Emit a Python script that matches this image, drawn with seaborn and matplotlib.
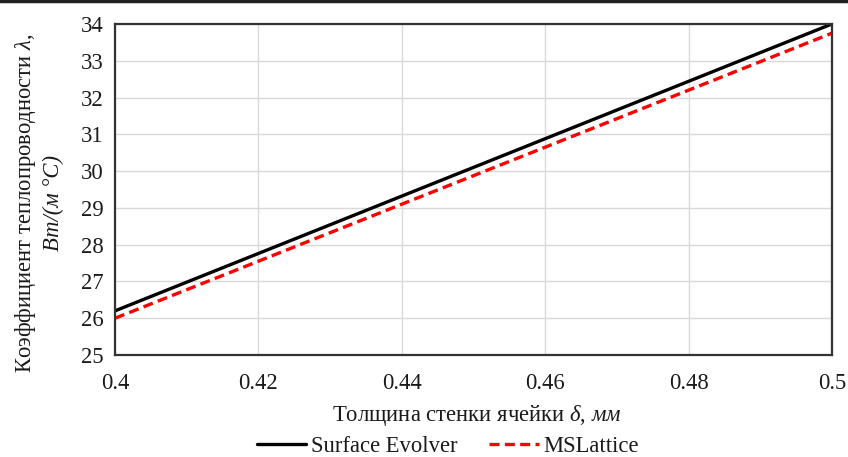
import matplotlib
matplotlib.use("Agg")
import matplotlib.pyplot as plt
import seaborn as sns
import pandas as pd
from matplotlib.lines import Line2D

thickness = [0.40, 0.42, 0.44, 0.46, 0.48, 0.50]
surface_evolver = [26.2, 27.76, 29.32, 30.88, 32.44, 34.0]
mslattice = [26.0, 27.55, 29.1, 30.65, 32.2, 33.75]
series_names = ["Surface Evolver", "MSLattice"]
x_ticks = [0.4, 0.42, 0.44, 0.46, 0.48, 0.5]
x_tick_labels = ["0.4", "0.42", "0.44", "0.46", "0.48", "0.5"]
y_ticks = list(range(25, 35))

df = pd.DataFrame({
    "x": thickness * 2,
    "y": surface_evolver + mslattice,
    "series": [series_names[0]] * len(thickness) + [series_names[1]] * len(thickness),
})

sns.set_theme(style="white")
plt.rcParams["font.family"] = ["Liberation Serif", "DejaVu Serif"]
plt.rcParams["mathtext.fontset"] = "custom"
plt.rcParams["mathtext.it"] = "Liberation Serif:italic"
plt.rcParams["mathtext.rm"] = "Liberation Serif"

fig = plt.figure(figsize=(8.48, 4.57), dpi=100)
ax = fig.add_axes([0.1356, 0.2232, 0.8454, 0.7243])

palette = {series_names[0]: "black", series_names[1]: "#ff0000"}
sns.lineplot(data=df, x="x", y="y", hue="series", palette=palette, ax=ax,
             legend=False, linewidth=2.4)
lines = ax.get_lines()
lines[1].set_linestyle((0, (3, 1.6)))

ax.set_xlim(0.4, 0.5)
ax.set_ylim(25, 34)
ax.set_xticks(x_ticks)
ax.set_xticklabels(x_tick_labels)
ax.set_yticks(y_ticks)
ax.tick_params(axis="both", labelsize=16.3, length=0, colors="#1a1a1a")
ax.tick_params(axis="x", pad=13)
ax.tick_params(axis="y", pad=8)
ax.grid(True, color="#d9d9d9", linewidth=1.0)
for s in ax.spines.values():
    s.set_visible(True)
    s.set_color("#333333")
    s.set_linewidth(1.6)
ax.set_xlabel("")
ax.set_ylabel("")

fig.text(0.5625, 0.090, "Толщина стенки ячейки $\\delta$, $мм$", ha="center", va="center",
         fontsize=16.3, color="#1a1a1a")
fig.text(0.030, 0.555, "Коэффициент теплопроводности $\\lambda$,", rotation=90,
         ha="center", va="center", fontsize=16.3, color="#1a1a1a")
fig.text(0.063, 0.555, "Вт/(м °С)", rotation=90, ha="center", va="center",
         fontsize=16.3, style="italic", color="#1a1a1a")

handles = [Line2D([], [], color="black", linewidth=2.4),
           Line2D([], [], color="#ff0000", linewidth=2.4, linestyle=(0, (3, 1.6)))]
fig.legend(handles, series_names, loc="center", bbox_to_anchor=(0.528, 0.024), ncol=2,
           frameon=False, fontsize=16.3, handlelength=2.2, handletextpad=0.2,
           columnspacing=1.4, labelcolor="#1a1a1a", borderpad=0.1)

fig.add_artist(Line2D([0, 1], [0.998, 0.998], transform=fig.transFigure,
                      color="#222222", linewidth=2.5))

fig.savefig("out.png", dpi=100)
